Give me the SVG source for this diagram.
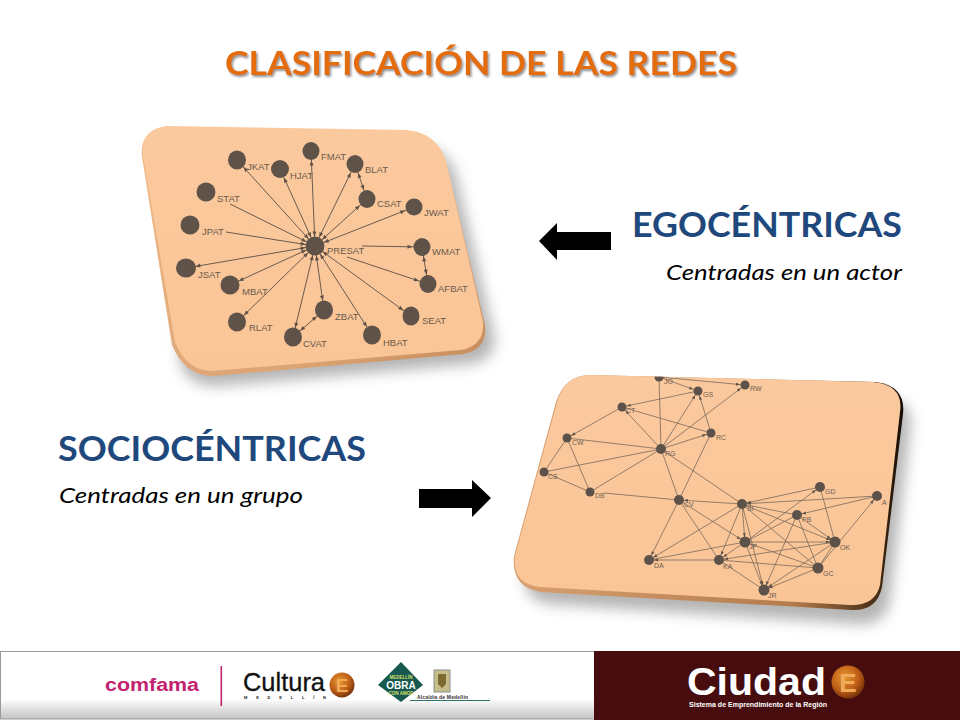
<svg xmlns="http://www.w3.org/2000/svg" width="960" height="720" viewBox="0 0 960 720">
<style>
.head{font-family:Lato,"Open Sans","Liberation Sans",sans-serif;font-weight:700}
.sub{font-family:Lato,"Open Sans","Liberation Sans",sans-serif;font-style:italic;font-size:22px;fill:#000}
.l1{font-family:"Liberation Sans",Arial,sans-serif;font-size:9.5px;fill:#6a5a4c}
.l2{font-family:"Liberation Sans",Arial,sans-serif;font-size:7px;fill:#6e6054}
.n1{fill:#5f5349}
.n2{fill:#5c5249}
.e1{stroke:#6a5b4e;stroke-width:1;fill:none;marker-end:url(#a1);marker-start:url(#a1)}
.e1b{stroke:#6a5b4e;stroke-width:1;fill:none;marker-end:url(#a1)}
.e2{stroke:#7a6a5c;stroke-width:.8;fill:none;marker-end:url(#a2)}
.e3{stroke:#7a6a5c;stroke-width:.8;fill:none}
.f{font-family:"Liberation Sans",Arial,sans-serif}
</style>
<defs>
<marker id="a1" markerUnits="userSpaceOnUse" markerWidth="6" markerHeight="5" refX="14.5" refY="2" orient="auto-start-reverse" overflow="visible"><path d="M0,0L5,2L0,4z" fill="#5f5147"/></marker>
<marker id="a2" markerUnits="userSpaceOnUse" markerWidth="5" markerHeight="4" refX="9" refY="1.5" orient="auto-start-reverse" overflow="visible"><path d="M0,0L4,1.5L0,3z" fill="#5f5147"/></marker>
<filter id="blur" x="-20%" y="-20%" width="140%" height="140%"><feGaussianBlur stdDeviation="7"/></filter>
<filter id="ts" x="-5%" y="-20%" width="110%" height="150%"><feDropShadow dx="1.5" dy="2" stdDeviation="1.2" flood-color="#777" flood-opacity=".8"/></filter>
<linearGradient id="bev1" x1="0" y1="0" x2="1" y2="1"><stop offset="0" stop-color="#f0bb8c"/><stop offset=".7" stop-color="#dca373"/><stop offset="1" stop-color="#c48a5a"/></linearGradient>
<linearGradient id="bev2" x1="0" y1="0" x2="1" y2="0"><stop offset="0" stop-color="#d9a171"/><stop offset=".72" stop-color="#b47c4d"/><stop offset=".93" stop-color="#4a2e16"/><stop offset="1" stop-color="#140c05"/></linearGradient>
<linearGradient id="face" x1="0" y1="0" x2="0" y2="1"><stop offset="0" stop-color="#fbc99e"/><stop offset="1" stop-color="#fac596"/></linearGradient>
<linearGradient id="foot" x1="0" y1="0" x2="0" y2="1"><stop offset="0" stop-color="#fff"/><stop offset=".7" stop-color="#fff"/><stop offset="1" stop-color="#c4c4c4"/></linearGradient>
<radialGradient id="ball" cx=".4" cy=".35" r=".7"><stop offset="0" stop-color="#e8962c"/><stop offset=".6" stop-color="#bd5d18"/><stop offset="1" stop-color="#6e2c08"/></radialGradient>
<clipPath id="c2"><path d="M590,375L873,382Q904,385 900,412L880,585Q875,606 850,605L540,587Q512,584 515,556L557,402Q565,375 590,375z"/></clipPath>
</defs>
<rect width="960" height="720" fill="#fff"/>

<text class="head" x="225" y="75" font-size="33" fill="#e36c0a" textLength="512" lengthAdjust="spacingAndGlyphs" filter="url(#ts)">CLASIFICACIÓN DE LAS REDES</text>

<g id="card1">
<path d="M180,140L420,145Q448,150 456,175L494,335Q498,358 472,364L215,386Q185,385 180,360z" fill="#777" opacity=".55" filter="url(#blur)"/>
<path d="M167,127L407,131Q437,134 446,162L485,325Q488,349 463,354L213,376Q185,376 172,345L142,157Q139,130 167,127z" fill="url(#bev1)"/>
<path d="M167,126L407,130Q437,133 446,161L483,322Q485,345 461,350L212,371Q187,371 175,342L143,156Q140,129 167,126z" fill="url(#face)"/>
</g>

<g id="connectors1">
<line class="e1" x1="315" y1="246" x2="311" y2="151"/>
<line class="e1" x1="315" y1="246" x2="237" y2="160"/>
<line class="e1" x1="315" y1="246" x2="280" y2="169"/>
<line class="e1" x1="315" y1="246" x2="355" y2="164"/>
<line class="e1" x1="315" y1="246" x2="367" y2="199"/>
<line class="e1" x1="315" y1="246" x2="414" y2="207"/>
<line class="e1b" x1="362" y1="246" x2="422" y2="247"/>
<line class="e1b" x1="347" y1="257" x2="428" y2="284"/>
<line class="e1" x1="315" y1="246" x2="411" y2="316"/>
<line class="e1" x1="315" y1="246" x2="372" y2="335"/>
<line class="e1" x1="315" y1="246" x2="324" y2="310"/>
<line class="e1" x1="315" y1="246" x2="293" y2="337"/>
<line class="e1" x1="315" y1="246" x2="237" y2="322"/>
<line class="e1" x1="315" y1="246" x2="230" y2="285"/>
<line class="e1" x1="315" y1="246" x2="186" y2="268"/>
<line class="e1b" x1="226" y1="232" x2="315" y2="246"/>
<line class="e1b" x1="230" y1="204" x2="315" y2="246"/>
<line class="e1" x1="355" y1="164" x2="367" y2="199"/>
<line class="e1" x1="422" y1="247" x2="428" y2="284"/>
<line class="e1" x1="324" y1="310" x2="293" y2="337"/>
</g>

<g id="n1-PRESAT"><ellipse class="n1" cx="315" cy="246" rx="9.5" ry="9.5"/><text class="l1" x="327" y="254">PRESAT</text></g>
<g id="n1-FMAT"><ellipse class="n1" cx="311" cy="151" rx="8.5" ry="9"/><text class="l1" x="321" y="160">FMAT</text></g>
<g id="n1-JKAT"><ellipse class="n1" cx="237" cy="160" rx="9" ry="9.5"/><text class="l1" x="247" y="170">JKAT</text></g>
<g id="n1-HJAT"><ellipse class="n1" cx="280" cy="169" rx="9" ry="9"/><text class="l1" x="290" y="179">HJAT</text></g>
<g id="n1-BLAT"><ellipse class="n1" cx="355" cy="164" rx="8.5" ry="9"/><text class="l1" x="365" y="173">BLAT</text></g>
<g id="n1-CSAT"><ellipse class="n1" cx="367" cy="199" rx="8.5" ry="9"/><text class="l1" x="377" y="207">CSAT</text></g>
<g id="n1-JWAT"><ellipse class="n1" cx="414" cy="207" rx="8.5" ry="8.5"/><text class="l1" x="424" y="216">JWAT</text></g>
<g id="n1-WMAT"><ellipse class="n1" cx="422" cy="247" rx="8.5" ry="9"/><text class="l1" x="432" y="255">WMAT</text></g>
<g id="n1-AFBAT"><ellipse class="n1" cx="428" cy="284" rx="8.5" ry="9"/><text class="l1" x="438" y="292">AFBAT</text></g>
<g id="n1-SEAT"><ellipse class="n1" cx="411" cy="316" rx="8.5" ry="9.5"/><text class="l1" x="422" y="324">SEAT</text></g>
<g id="n1-HBAT"><ellipse class="n1" cx="372" cy="335" rx="9" ry="9.5"/><text class="l1" x="383" y="346">HBAT</text></g>
<g id="n1-ZBAT"><ellipse class="n1" cx="324" cy="310" rx="9" ry="9.5"/><text class="l1" x="335" y="320">ZBAT</text></g>
<g id="n1-CVAT"><ellipse class="n1" cx="293" cy="337" rx="9" ry="9.5"/><text class="l1" x="303" y="347">CVAT</text></g>
<g id="n1-RLAT"><ellipse class="n1" cx="237" cy="322" rx="9" ry="9.5"/><text class="l1" x="249" y="331">RLAT</text></g>
<g id="n1-MBAT"><ellipse class="n1" cx="230" cy="285" rx="9.5" ry="9.5"/><text class="l1" x="242" y="295">MBAT</text></g>
<g id="n1-JSAT"><ellipse class="n1" cx="186" cy="268" rx="10" ry="9.5"/><text class="l1" x="198" y="278">JSAT</text></g>
<g id="n1-JPAT"><ellipse class="n1" cx="190" cy="225" rx="9.5" ry="9.5"/><text class="l1" x="202" y="235">JPAT</text></g>
<g id="n1-STAT"><ellipse class="n1" cx="206" cy="192" rx="9.5" ry="9.5"/><text class="l1" x="217" y="202">STAT</text></g>

<g id="card2">
<path d="M600,390L885,398Q914,402 910,428L890,600Q885,625 860,624L550,604Q522,600 525,572z" fill="#777" opacity=".55" filter="url(#blur)"/>
<path d="M590,375L876,382Q906,386 903,414L882,587Q877,611 852,610L540,592Q511,587 514,556L556,402Q565,375 590,375z" fill="url(#bev2)"/>
<path d="M590,375L873,382Q904,385 900,412L880,585Q875,606 850,605L540,587Q512,584 515,556L557,402Q565,375 590,375z" fill="url(#face)"/>
</g>

<g id="connectors2" clip-path="url(#c2)">
<line class="e2" x1="659" y1="377" x2="745" y2="385"/>
<line class="e2" x1="659" y1="377" x2="698" y2="391"/>
<line class="e3" x1="661" y1="449" x2="659" y2="377"/>
<line class="e2" x1="698" y1="391" x2="622" y2="407"/>
<line class="e2" x1="661" y1="449" x2="698" y2="391"/>
<line class="e2" x1="711" y1="433" x2="698" y2="391"/>
<line class="e2" x1="661" y1="449" x2="745" y2="385"/>
<line class="e2" x1="622" y1="407" x2="567" y2="438"/>
<line class="e3" x1="622" y1="407" x2="711" y2="433"/>
<line class="e2" x1="661" y1="449" x2="622" y2="407"/>
<line class="e2" x1="661" y1="449" x2="711" y2="433"/>
<line class="e3" x1="711" y1="433" x2="679" y2="500"/>
<line class="e3" x1="661" y1="449" x2="567" y2="438"/>
<line class="e3" x1="567" y1="438" x2="544" y2="472"/>
<line class="e3" x1="567" y1="438" x2="590" y2="492"/>
<line class="e3" x1="544" y1="472" x2="661" y2="449"/>
<line class="e3" x1="544" y1="472" x2="590" y2="492"/>
<line class="e3" x1="590" y1="492" x2="661" y2="449"/>
<line class="e3" x1="604" y1="493" x2="679" y2="500"/>
<line class="e3" x1="661" y1="449" x2="679" y2="500"/>
<line class="e3" x1="661" y1="449" x2="742" y2="504"/>
<line class="e2" x1="742" y1="504" x2="679" y2="500"/>
<line class="e2" x1="679" y1="500" x2="745" y2="542"/>
<line class="e3" x1="679" y1="500" x2="719" y2="560"/>
<line class="e2" x1="679" y1="500" x2="649" y2="560"/>
<line class="e2" x1="820" y1="487" x2="742" y2="504"/>
<line class="e2" x1="877" y1="496" x2="742" y2="504"/>
<line class="e3" x1="742" y1="504" x2="797" y2="515"/>
<line class="e2" x1="742" y1="504" x2="745" y2="542"/>
<line class="e2" x1="742" y1="504" x2="835" y2="542"/>
<line class="e3" x1="742" y1="504" x2="818" y2="568"/>
<line class="e2" x1="742" y1="504" x2="719" y2="560"/>
<line class="e2" x1="742" y1="504" x2="764" y2="590"/>
<line class="e2" x1="742" y1="504" x2="649" y2="560"/>
<line class="e2" x1="745" y1="542" x2="820" y2="487"/>
<line class="e3" x1="820" y1="487" x2="835" y2="542"/>
<line class="e2" x1="877" y1="496" x2="797" y2="515"/>
<line class="e2" x1="818" y1="568" x2="877" y2="496"/>
<line class="e2" x1="797" y1="515" x2="835" y2="542"/>
<line class="e3" x1="797" y1="515" x2="818" y2="568"/>
<line class="e2" x1="797" y1="515" x2="764" y2="590"/>
<line class="e3" x1="797" y1="515" x2="745" y2="542"/>
<line class="e2" x1="745" y1="542" x2="835" y2="542"/>
<line class="e3" x1="745" y1="542" x2="649" y2="560"/>
<line class="e2" x1="745" y1="542" x2="719" y2="560"/>
<line class="e3" x1="745" y1="542" x2="818" y2="568"/>
<line class="e2" x1="745" y1="542" x2="764" y2="590"/>
<line class="e2" x1="835" y1="542" x2="719" y2="560"/>
<line class="e3" x1="835" y1="542" x2="818" y2="568"/>
<line class="e2" x1="835" y1="542" x2="764" y2="590"/>
<line class="e3" x1="818" y1="568" x2="719" y2="560"/>
<line class="e2" x1="719" y1="560" x2="649" y2="560"/>
<line class="e3" x1="719" y1="560" x2="764" y2="590"/>
<line class="e2" x1="818" y1="568" x2="764" y2="590"/>
</g>

<g clip-path="url(#c2)">
<g id="n2-JO"><circle class="n2" cx="659" cy="377" r="4.5"/><text class="l2" x="664" y="384">JO</text></g>
<g id="n2-RW"><circle class="n2" cx="745" cy="385" r="4.5"/><text class="l2" x="750" y="391">RW</text></g>
<g id="n2-GS"><circle class="n2" cx="698" cy="391" r="4.5"/><text class="l2" x="703" y="397">GS</text></g>
<g id="n2-CT"><circle class="n2" cx="622" cy="407" r="4.5"/><text class="l2" x="626" y="413">CT</text></g>
<g id="n2-RC"><circle class="n2" cx="711" cy="433" r="4.5"/><text class="l2" x="716" y="440">RC</text></g>
<g id="n2-CW"><circle class="n2" cx="567" cy="438" r="4.5"/><text class="l2" x="572" y="445">CW</text></g>
<g id="n2-RG"><circle class="n2" cx="661" cy="449" r="5"/><text class="l2" x="665" y="456">RG</text></g>
<g id="n2-CS"><circle class="n2" cx="544" cy="472" r="4.5"/><text class="l2" x="548" y="479">CS</text></g>
<g id="n2-DB"><circle class="n2" cx="590" cy="492" r="4.5"/><text class="l2" x="595" y="498">DB</text></g>
<g id="n2-CV"><circle class="n2" cx="679" cy="500" r="5"/><text class="l2" x="684" y="507">CV</text></g>
<g id="n2-SI"><circle class="n2" cx="742" cy="504" r="5"/><text class="l2" x="747" y="511">SI</text></g>
<g id="n2-GD"><circle class="n2" cx="820" cy="487" r="5"/><text class="l2" x="825" y="494">GD</text></g>
<g id="n2-A"><circle class="n2" cx="877" cy="496" r="5"/><text class="l2" x="882" y="505">A</text></g>
<g id="n2-PB"><circle class="n2" cx="797" cy="515" r="5"/><text class="l2" x="802" y="522">PB</text></g>
<g id="n2-JP"><circle class="n2" cx="745" cy="542" r="5.5"/><text class="l2" x="749" y="549">JP</text></g>
<g id="n2-OK"><circle class="n2" cx="835" cy="542" r="5.5"/><text class="l2" x="840" y="550">OK</text></g>
<g id="n2-DA"><circle class="n2" cx="649" cy="560" r="5"/><text class="l2" x="654" y="568">DA</text></g>
<g id="n2-KA"><circle class="n2" cx="719" cy="560" r="5"/><text class="l2" x="723" y="569">KA</text></g>
<g id="n2-GC"><circle class="n2" cx="818" cy="568" r="5.5"/><text class="l2" x="823" y="576">GC</text></g>
<g id="n2-JR"><circle class="n2" cx="764" cy="590" r="5.5"/><text class="l2" x="768" y="598">JR</text></g>
</g>

<text class="head" x="632" y="237" font-size="35" fill="#1f497d" textLength="270" lengthAdjust="spacingAndGlyphs">EGOCÉNTRICAS</text>
<text class="sub" x="666" y="280" textLength="236" lengthAdjust="spacingAndGlyphs">Centradas en un actor</text>
<path id="arrow-left" d="M539,241L557,223V232H611V250H557V260z" fill="#000"/>
<text class="head" x="58" y="461" font-size="35" fill="#1f497d" textLength="308" lengthAdjust="spacingAndGlyphs">SOCIOCÉNTRICAS</text>
<text class="sub" x="59" y="503" textLength="244" lengthAdjust="spacingAndGlyphs">Centradas en un grupo</text>
<path id="arrow-right" d="M491,498L472,480V489H419V508H472V517z" fill="#000"/>

<g id="footer">
<rect x="0.5" y="651.5" width="594" height="67.5" fill="url(#foot)" stroke="#9a9a9a"/>
<rect x="594" y="651" width="366" height="69" fill="#470d0e"/>
<text class="f" x="105" y="691" font-size="18" font-weight="700" fill="#c2226f" textLength="94" lengthAdjust="spacingAndGlyphs">comfama</text>
<rect x="220.5" y="666" width="1.6" height="40" fill="#c2226f"/>
<text class="f" x="243" y="691" font-size="25" fill="#111" stroke="#111" stroke-width=".3" textLength="82" lengthAdjust="spacingAndGlyphs">Cultura</text>
<text class="f" x="244" y="699" font-size="4" font-weight="700" fill="#222" textLength="82">MEDELLÍN</text>
<circle cx="342" cy="685" r="12.5" fill="url(#ball)"/>
<text class="f" x="342" y="692" font-size="19" font-weight="700" fill="#efab5a" text-anchor="middle">E</text>
<path d="M401,662L423,685L401,702L378,685z" fill="#17594f"/>
<text class="f" x="401" y="679" font-size="4.5" font-weight="700" fill="#d7df6a" text-anchor="middle">MEDELLÍN</text>
<text class="f" x="401" y="689" font-size="10" font-weight="700" fill="#fff" text-anchor="middle">OBRA</text>
<text class="f" x="401" y="695" font-size="4.5" font-weight="700" fill="#d7df6a" text-anchor="middle">CON AMOR</text>
<rect x="434" y="670" width="16" height="22" fill="#c7bd8a" stroke="#8b8f94"/>
<path d="M438,674H446V684L442,688L438,684z" fill="#7c6a30"/>
<text class="f" x="417" y="699" font-size="5" font-weight="700" fill="#333" textLength="51">Alcaldía de Medellín</text>
<rect x="410" y="700" width="80" height="1" fill="#2f7068"/>
<text class="f" x="687" y="695" font-size="38" font-weight="700" fill="#fff" textLength="139" lengthAdjust="spacingAndGlyphs">Ciudad</text>
<circle cx="848" cy="682" r="16.5" fill="url(#ball)"/>
<text class="f" x="848" y="692" font-size="26" font-weight="700" fill="#efab5a" text-anchor="middle">E</text>
<text class="f" x="689" y="707" font-size="7" font-weight="700" fill="#fff" textLength="138" lengthAdjust="spacingAndGlyphs">Sistema de Emprendimiento de la Región</text>
</g>
</svg>
